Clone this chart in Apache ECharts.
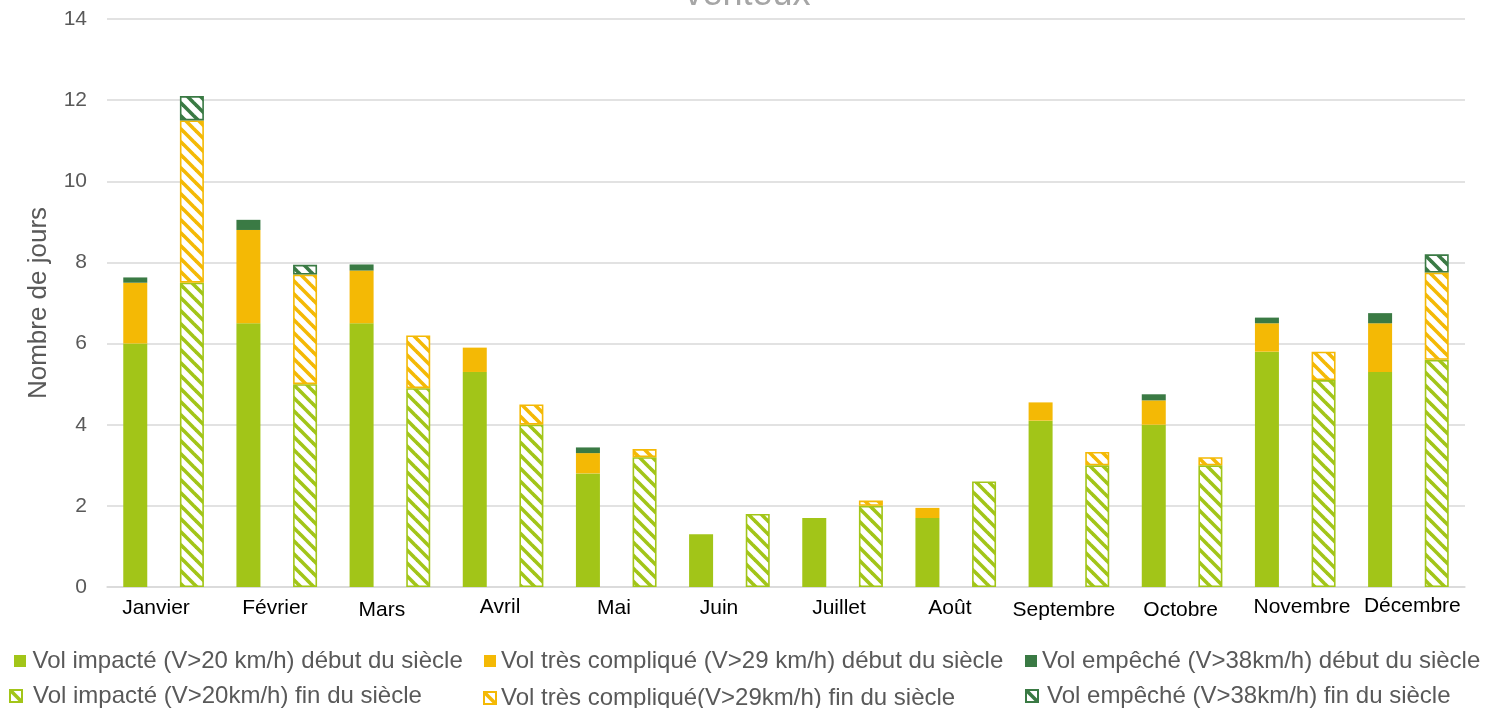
<!DOCTYPE html>
<html>
<head>
<meta charset="utf-8">
<script src="https://cdn.jsdelivr.net/npm/echarts@6/dist/echarts.min.js"></script>
<style>
html,body{margin:0;padding:0;background:#fff;}
#chart{width:1495px;height:708px;}
</style>
</head>
<body>
<div id="chart"></div>
<script>
// ---- data ----
var months = ['Janvier','Février','Mars','Avril','Mai','Juin','Juillet','Août','Septembre','Octobre','Novembre','Décembre'];
var yTicks = [0, 2, 4, 6, 8, 10, 12, 14];
var seriesNames = [
  'Vol impacté (V>20 km/h) début du siècle',
  'Vol très compliqué (V>29 km/h) début du siècle',
  'Vol empêché (V>38km/h) début du siècle',
  'Vol impacté (V>20km/h) fin du siècle',
  'Vol très compliqué(V>29km/h) fin du siècle',
  'Vol empêché (V>38km/h) fin du siècle'
];
var impacteDebut   = [6.0, 6.5, 6.5, 5.3, 2.8, 1.3, 1.7, 1.7, 4.1, 4.0, 5.8, 5.3];
var compliqueDebut = [1.5, 2.3, 1.3, 0.6, 0.5, 0, 0, 0.25, 0.45, 0.6, 0.7, 1.2];
var empecheDebut   = [0.13, 0.25, 0.15, 0, 0.14, 0, 0, 0, 0, 0.15, 0.14, 0.25];
var impacteFin     = [7.5, 5.0, 4.9, 4.0, 3.2, 1.8, 2.0, 2.6, 3.0, 3.0, 5.1, 5.6];
var compliqueFin   = [4.0, 2.7, 1.3, 0.5, 0.2, 0, 0.13, 0, 0.33, 0.2, 0.7, 2.15];
var empecheFin     = [0.6, 0.24, 0, 0, 0, 0, 0, 0, 0, 0, 0, 0.45];

// ---- styles ----
var GREEN = '#a2c518', YELLOW = '#f4b905', DARK = '#3a7a44';
var FONT = '"Liberation Sans", Arial, sans-serif';

function hatch(color) {
  var s = 13;
  var c = document.createElement('canvas');
  c.width = s; c.height = s;
  var g = c.getContext('2d');
  g.fillStyle = '#ffffff';
  g.fillRect(0, 0, s, s);
  g.strokeStyle = color;
  g.lineWidth = 3.6;
  g.lineCap = 'square';
  [-s, 0, s].forEach(function (x) {
    g.beginPath();
    g.moveTo(x, 0);
    g.lineTo(x + s, s);
    g.stroke();
  });
  return { image: c, repeat: 'repeat' };
}
function clean(arr) { return arr.map(function (v) { return v === 0 ? null : v; }); }

function solid(name, data, color) {
  return {
    name: name, type: 'bar', stack: 'debut', data: clean(data),
    barWidth: 24, barGap: '136%',
    itemStyle: { color: color },
    emphasis: { disabled: true }
  };
}
function hatched(name, data, color) {
  return {
    name: name, type: 'bar', stack: 'fin', data: clean(data),
    barWidth: 24, barGap: '136%',
    itemStyle: { color: hatch(color), borderColor: color, borderWidth: 1.6 },
    emphasis: { disabled: true }
  };
}

// small per-label nudges (dx, dy) to mimic hand-placed month labels
var labelNudge = [[-7.6,0],[-1.8,0],[-8,2],[-3,-1.5],[-2.3,0],[-10.4,0],[-3.6,0],[-5.8,-0.5],[-5,1.5],[-1.4,1.5],[6.7,-1.5],[3.9,-2.5]];
var rich = {};
labelNudge.forEach(function (n, i) {
  var dx = n[0], dy = n[1];
  rich['m' + i] = {
    fontSize: 21, fontFamily: FONT, color: '#000',
    padding: [3 + dy, dx < 0 ? -2 * dx : 0, 0, dx > 0 ? 2 * dx : 0]
  };
});

function legendItem(idx, left, top, padLeft) {
  return {
    data: [{ name: seriesNames[idx], icon: 'rect' }], left: left, top: top,
    itemWidth: 12, itemHeight: 12, itemGap: 0, padding: 0,
    selectedMode: false,
    textStyle: { fontSize: 24, color: '#595959', fontFamily: FONT, padding: [0, 0, 0, padLeft] }
  };
}

var chart = echarts.init(document.getElementById('chart'), null, { renderer: 'canvas' });
chart.setOption({
  animation: false,
  backgroundColor: '#ffffff',
  title: {
    text: 'venteux', left: 'center', top: -28,
    textStyle: { fontSize: 36, fontWeight: 'lighter', color: '#a6a6a6', fontFamily: FONT }
  },
  grid: { left: 107, right: 30, top: 19, bottom: 121 },
  legend: [
    legendItem(0, 14, 649, 1.5),
    legendItem(1, 484, 649, 0),
    legendItem(2, 1025, 649, 0),
    legendItem(3, 9, 684, 6),
    legendItem(4, 483, 686, 0),
    legendItem(5, 1025, 684, 4)
  ],
  xAxis: {
    type: 'category', data: months,
    axisTick: { show: false },
    axisLine: { lineStyle: { color: '#d9d9d9', width: 1.5 } },
    axisLabel: {
      margin: 8, interval: 0,
      formatter: function (v, i) { return '{m' + i + '|' + v + '}'; },
      rich: rich
    }
  },
  yAxis: {
    type: 'value', min: yTicks[0], max: yTicks[yTicks.length - 1], interval: yTicks[1] - yTicks[0],
    name: 'Nombre de jours', nameLocation: 'middle', nameGap: 55, nameRotate: 90,
    nameTextStyle: { fontSize: 26, color: '#595959', fontFamily: FONT },
    axisLine: { show: false }, axisTick: { show: false },
    axisLabel: { fontSize: 21, color: '#595959', fontFamily: FONT, margin: 20 },
    splitLine: { lineStyle: { color: '#d9d9d9', width: 1.5 } }
  },
  series: [
    solid(seriesNames[0], impacteDebut, GREEN),
    solid(seriesNames[1], compliqueDebut, YELLOW),
    solid(seriesNames[2], empecheDebut, DARK),
    hatched(seriesNames[3], impacteFin, GREEN),
    hatched(seriesNames[4], compliqueFin, YELLOW),
    hatched(seriesNames[5], empecheFin, DARK)
  ]
});
</script>
</body>
</html>
